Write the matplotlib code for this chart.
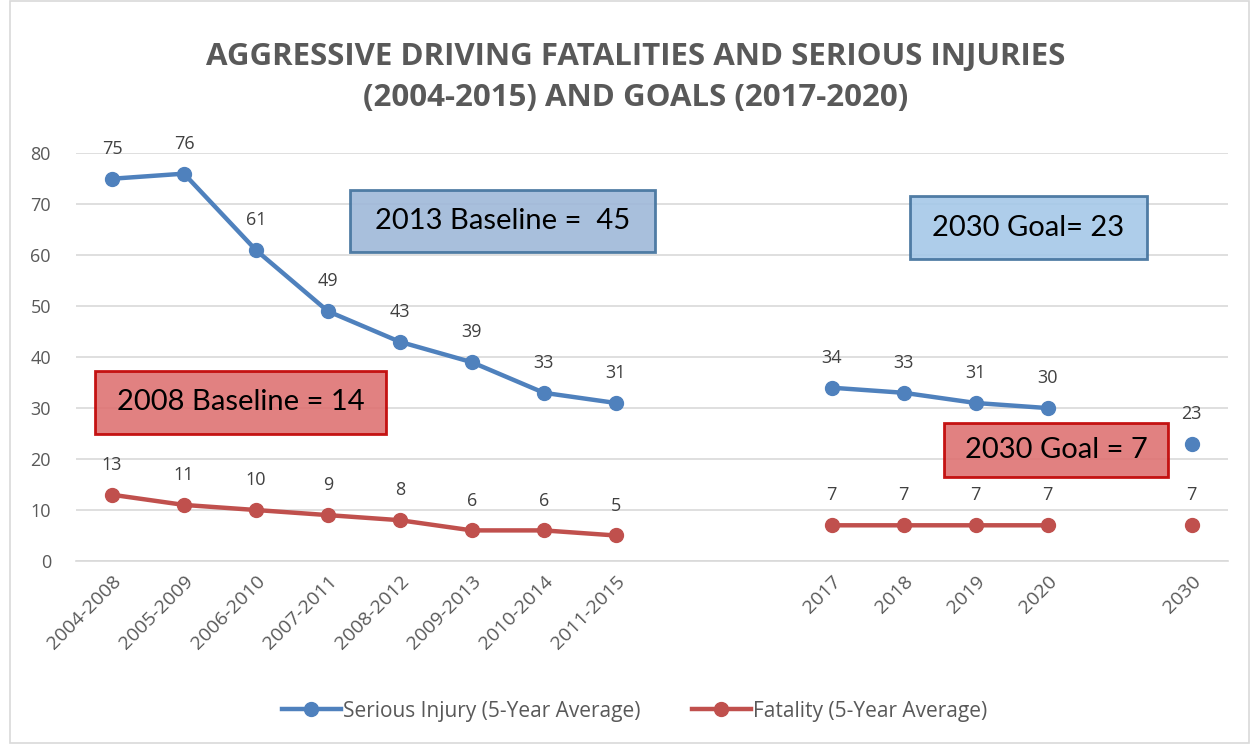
import numpy as np
import matplotlib.pyplot as plt
from matplotlib.patches import Rectangle

# Dane
categories = ["2004-2008", "2005-2009", "2006-2010", "2007-2011", "2008-2012",
              "2009-2013", "2010-2014", "2011-2015", "", "",
              "2017", "2018", "2019", "2020", "", "2030"]
serious = [75, 76, 61, 49, 43, 39, 33, 31, np.nan, np.nan,
           34, 33, 31, 30, np.nan, 23]
fatal = [13, 11, 10, 9, 8, 6, 6, 5, np.nan, np.nan,
         7, 7, 7, 7, np.nan, 7]

blue = "#4f81bd"
red = "#c0504d"
gray = "#595959"

plt.rcParams['font.family'] = ['Open Sans', 'DejaVu Sans']

fig = plt.figure(figsize=(12.54, 7.44), dpi=100)
ax = fig.add_axes([0.0606, 0.246, 0.9184, 0.548])

x = np.arange(len(categories))
ax.plot(x, serious, "-o", color=blue, lw=3.2, ms=10, label="Serious Injury (5-Year Average)")
ax.plot(x, fatal, "-o", color=red, lw=3.2, ms=10, label="Fatality (5-Year Average)")

for xi, v in zip(x, serious):
    if not np.isnan(v):
        ax.annotate(f"{v:.0f}", (xi, v), xytext=(0, 15), textcoords="offset points",
                    ha="center", va="bottom", fontsize=13, color="#404040")
for xi, v in zip(x, fatal):
    if not np.isnan(v):
        ax.annotate(f"{v:.0f}", (xi, v), xytext=(0, 15), textcoords="offset points",
                    ha="center", va="bottom", fontsize=13, color="#404040")

ax.set_xlim(-0.5, len(categories) - 0.5)
ax.set_ylim(0, 80)
ax.set_yticks(range(0, 81, 10))
ax.set_xticks(x)
ax.set_xticklabels(categories, rotation=45, ha="right", rotation_mode="anchor")
ax.tick_params(axis="x", length=0, pad=8, labelsize=14, labelcolor=gray)
ax.tick_params(axis="y", length=0, pad=18, labelsize=13, labelcolor=gray)
ax.grid(axis="y", color="#d9d9d9", lw=1.2)
ax.set_axisbelow(True)
for s in ["top", "right", "left"]:
    ax.spines[s].set_visible(False)
ax.spines["bottom"].set_color("#d9d9d9")
ax.spines["bottom"].set_linewidth(1.2)

# Ramki z opisami (w pikselach figury)
def box(x0, y0, x1, y1, text, fc, ec, fs):
    W, H = 1254, 744
    r = Rectangle((x0 / W, 1 - y1 / H), (x1 - x0) / W, (y1 - y0) / H,
                  transform=fig.transFigure, fc=fc, ec=ec, lw=2, alpha=0.9, zorder=5)
    fig.patches.append(r)
    fig.text((x0 + x1) / 2 / W, 1 - (y0 + y1) / 2 / H, text, ha="center", va="center",
             fontsize=fs, color="black", zorder=6, family=["Lato", "DejaVu Sans"])

box(350, 190, 655, 252, "2013 Baseline =  45", "#9fb8d9", "#41719c", 21)
box(95, 371, 386, 434, "2008 Baseline = 14", "#de7373", "#c00000", 21)
box(910, 196, 1147, 259, "2030 Goal= 23", "#a5c8e8", "#41719c", 21)
box(944, 423, 1168, 477, "2030 Goal = 7", "#de7373", "#c00000", 21)

fig.text(0.507, 0.896, "AGGRESSIVE DRIVING FATALITIES AND SERIOUS INJURIES\n(2004-2015) AND GOALS (2017-2020)",
         ha="center", va="center", fontsize=22.5, fontweight="bold", color=gray,
         linespacing=1.45)

ax.legend(loc="center", bbox_to_anchor=(0.506, 0.044), bbox_transform=fig.transFigure,
          ncol=2, frameon=False, fontsize=15, labelcolor=gray, handlelength=2.8,
          columnspacing=2.5, handletextpad=0.1)

# ramka wykresu
fig.patches.append(Rectangle((0.008, 0.002), 0.988, 0.996, transform=fig.transFigure,
                             fill=False, ec="#d9d9d9", lw=1.2))

fig.savefig("out.png", dpi=100)
